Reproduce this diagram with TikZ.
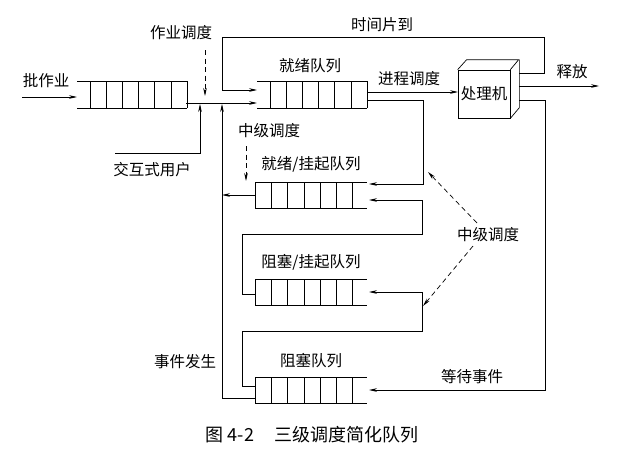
\documentclass[tikz,border=0pt]{standalone}
\usepackage{fontspec}
\newfontfamily\cjk{Noto Sans CJK SC}
\usetikzlibrary{arrows.meta}
\tikzset{
  ln/.style={line width=0.7pt},
  arr/.style={ln,-{Stealth[length=8pt,width=3.6pt]}},
  darr/.style={ln,dash pattern=on 5pt off 3.5pt,-{Stealth[length=8pt,width=3.6pt]}},
  lbl/.style={font=\cjk\fontsize{15.5}{17}\selectfont,inner sep=0pt},
  captext/.style={font=\cjk\fontsize{18}{20}\selectfont,inner sep=0pt},
}
% queue open on the left: #1 = left x, #2 = top y; cells start at #1+13
\newcommand{\qopenleft}[2]{%
  \draw[ln] (#1,#2) -- ++(110,0) (#1,#2+27) -- ++(110,0);
  \foreach \k in {0,...,6} {\draw[ln] (#1+13+\k*16.2,#2) -- ++(0,27);}
}
% queue open on the right: closed left at #1
\newcommand{\qopenright}[2]{%
  \draw[ln] (#1,#2) -- ++(112,0) (#1,#2+26) -- ++(112,0);
  \foreach \k in {0,...,6} {\draw[ln] (#1+\k*16.3,#2) -- ++(0,26);}
}
\begin{document}
\begin{tikzpicture}[x=1pt,y=-1pt]
\useasboundingbox (0,0) rectangle (623,459);
% queues
\qopenleft{77}{81}
\qopenleft{257}{81}
\qopenright{255}{182}
\qopenright{255}{279}
\qopenright{255}{377}
% processor
\node[draw,ln,minimum width=52pt,minimum height=48pt,inner sep=0pt,font=\cjk\fontsize{15.5}{17}\selectfont] (cpu) at (484,94) {处理机};
\draw[ln] (cpu.north west) -- ++(9,-10) -- ++(52,0) -- (cpu.north east)
          (cpu.north east) ++(9,-10) -- ++(0,48) -- (cpu.south east);
% named points
\coordinate (bqin) at (77,97);
\coordinate (bqout) at (186,103);
\coordinate (rqin1) at (257,90);
\coordinate (rqin2) at (257,103);
\coordinate (rqout1) at (368,92);
\coordinate (rqout2) at (368,100);
\coordinate (rsin1) at (369,184);
\coordinate (rsin2) at (369,200);
\coordinate (rsout) at (255,195);
\coordinate (bsin) at (369,292);
\coordinate (bsout) at (255,294);
\coordinate (blin) at (369,390);
\coordinate (blout1) at (255,386);
\coordinate (blout2) at (255,398);
\coordinate (cpuo1) at (519,73);
\coordinate (cpuo2) at (519,86);
\coordinate (cpuo3) at (519,100);
\coordinate (cpuin) at (458,92);
\coordinate (batchsrc) at (22,97);
\coordinate (usersrc) at (115,153);
\coordinate (relend) at (599,86);
% labels
\node[lbl] (lbatch) at (46,81) {批作业};
\node[lbl] (ljob) at (181,33) {作业调度};
\node[lbl] (luser) at (152,170) {交互式用户};
\node[lbl] (lmid1) at (269,131) {中级调度};
\node[lbl] (levt) at (185,362) {事件发生};
\node[lbl] (lrq) at (310,66) {就绪队列};
\node[lbl] (lrs) at (311,164) {就绪/挂起队列};
\node[lbl] (lbs) at (311,262) {阻塞/挂起队列};
\node[lbl] (lbl) at (311,361) {阻塞队列};
\node[lbl] (ltime) at (382,25) {时间片到};
\node[lbl] (lproc) at (409,79) {进程调度};
\node[lbl] (lrel) at (572,72) {释放};
\node[lbl] (lmid2) at (488,235) {中级调度};
\node[lbl] (lwait) at (472,377) {等待事件};
\node[captext] (capt) at (312,435) {图 4-2\hspace{1.1em}三级调度简化队列};
% connectors
\draw[arr] (batchsrc) -- (bqin);
\draw[arr] (bqout) -- (rqin2);
\draw[darr] (205,50) -- (205,96);
\draw[arr] (usersrc) -- (200,153) -- (200,104);
\draw[arr] (blout2) -- (222,398) -- (222,104);
\draw[arr] (rsout) -- (222,195);
\draw[darr] (246,146) -- (246,181);
\draw[arr] (cpuo1) -- (544,73) -- (544,37) -- (222,37) -- (222,90) -- (rqin1);
\draw[arr] (rqout1) -- (cpuin);
\draw[arr] (cpuo2) -- (relend);
\draw[arr] (cpuo3) -- (545,100) -- (545,390) -- (blin);
\draw[arr] (rqout2) -- (423,100) -- (423,184) -- (rsin1);
\draw[arr] (bsout) -- (242,294) -- (242,234) -- (422,234) -- (422,200) -- (rsin2);
\draw[arr] (blout1) -- (242,386) -- (242,331) -- (422,331) -- (422,292) -- (bsin);
\draw[darr] (477,223) -- (428,172);
\draw[darr] (473,246) -- (423,306);
\end{tikzpicture}
\end{document}
